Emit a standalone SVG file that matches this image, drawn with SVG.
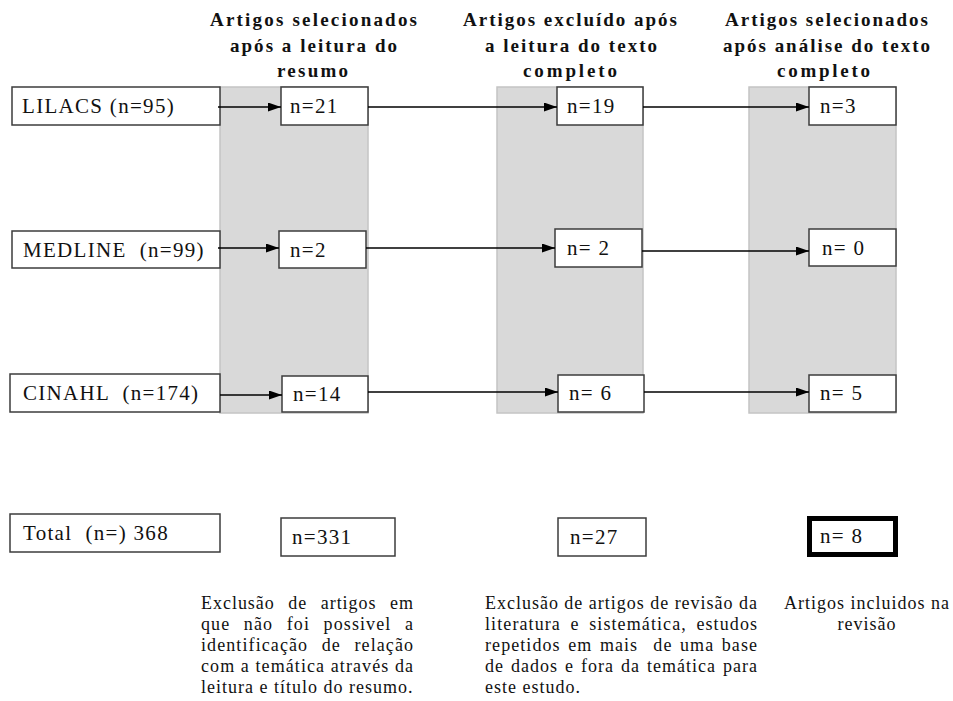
<svg xmlns="http://www.w3.org/2000/svg" width="953" height="701" viewBox="0 0 953 701">
<style>
.col{fill:#d9d9d9;stroke:#c4c4c4;stroke-width:1.5}
.box{fill:#fff;stroke:#3c3c3c;stroke-width:1.5}
.thick{fill:#fff;stroke:#000;stroke-width:5}
.bt{font-size:21px;letter-spacing:1.3px;fill:#111}
.hd{font-size:19px;font-weight:bold;fill:#111}
.nt{font-size:18px;letter-spacing:1px;fill:#111}
.conn line{stroke:#000;stroke-width:1.6;marker-end:url(#ah)}
</style>
<defs>
<marker id="ah" markerUnits="userSpaceOnUse" markerWidth="13" markerHeight="10" refX="13" refY="4.5" orient="auto">
<path d="M0,0 L13,4.5 L0,9 z" fill="#000"/>
</marker>
</defs>
<rect width="953" height="701" fill="#fff"/>
<g id="columns">
<rect class="col" x="220" y="87" width="148" height="326"/>
<rect class="col" x="497" y="87" width="146" height="326"/>
<rect class="col" x="749" y="87" width="147" height="326"/>
</g>
<g font-family="'Liberation Serif', 'DejaVu Serif', serif">
<g id="headers">
<text class="hd" x="210" y="26" textLength="207" lengthAdjust="spacing">Artigos selecionados</text>
<text class="hd" x="230" y="51.5" textLength="167" lengthAdjust="spacing">após a leitura do</text>
<text class="hd" x="277" y="77" textLength="71" lengthAdjust="spacing">resumo</text>
<text class="hd" x="463" y="26" textLength="214" lengthAdjust="spacing">Artigos excluído após</text>
<text class="hd" x="485" y="51.5" textLength="172" lengthAdjust="spacing">a leitura do texto</text>
<text class="hd" x="523" y="77" textLength="94" lengthAdjust="spacing">completo</text>
<text class="hd" x="725" y="26" textLength="203" lengthAdjust="spacing">Artigos selecionados</text>
<text class="hd" x="723" y="51.5" textLength="207" lengthAdjust="spacing">após análise do texto</text>
<text class="hd" x="777" y="77" textLength="93" lengthAdjust="spacing">completo</text>
</g>
<g id="lilacs"><rect class="box" x="12" y="87" width="208" height="38"/><text class="bt" x="22" y="113">LILACS (n=95)</text></g>
<g id="medline"><rect class="box" x="12" y="231" width="208" height="37"/><text class="bt" x="23" y="257" xml:space="preserve">MEDLINE  (n=99)</text></g>
<g id="cinahl"><rect class="box" x="10" y="374" width="210" height="38"/><text class="bt" x="23" y="400" xml:space="preserve">CINAHL  (n=174)</text></g>
<g id="total"><rect class="box" x="10" y="514" width="210" height="38"/><text class="bt" x="23" y="540" xml:space="preserve">Total  (n=) 368</text></g>
<g id="s1r1"><rect class="box" x="281" y="87" width="87" height="38"/><text class="bt" x="290" y="113">n=21</text></g>
<g id="s1r2"><rect class="box" x="279" y="231" width="87" height="37"/><text class="bt" x="290" y="257">n=2</text></g>
<g id="s1r3"><rect class="box" x="282" y="376" width="86" height="36"/><text class="bt" x="293" y="401">n=14</text></g>
<g id="s1t"><rect class="box" x="281" y="518" width="114" height="38"/><text class="bt" x="292" y="544">n=331</text></g>
<g id="s2r1"><rect class="box" x="557" y="87" width="86" height="38"/><text class="bt" x="567" y="113">n=19</text></g>
<g id="s2r2"><rect class="box" x="555" y="229" width="87" height="38"/><text class="bt" x="567" y="255">n= 2</text></g>
<g id="s2r3"><rect class="box" x="558" y="375" width="86" height="37"/><text class="bt" x="569" y="400">n= 6</text></g>
<g id="s2t"><rect class="box" x="558" y="518" width="88" height="38"/><text class="bt" x="570" y="544">n=27</text></g>
<g id="s3r1"><rect class="box" x="809" y="87" width="87" height="38"/><text class="bt" x="820" y="113">n=3</text></g>
<g id="s3r2"><rect class="box" x="809" y="229" width="87" height="37"/><text class="bt" x="822" y="255">n= 0</text></g>
<g id="s3r3"><rect class="box" x="809" y="375" width="87" height="37"/><text class="bt" x="820" y="400">n= 5</text></g>
<g id="s3t"><rect class="thick" x="809.5" y="518.5" width="86" height="36"/><text class="bt" x="820" y="543">n= 8</text></g>
<g id="note1">
<text class="nt" x="201" y="609" word-spacing="8" textLength="213" lengthAdjust="spacing">Exclusão de artigos em</text>
<text class="nt" x="201" y="630" word-spacing="8" textLength="213" lengthAdjust="spacing">que não foi possivel a</text>
<text class="nt" x="201" y="651" word-spacing="8" textLength="213" lengthAdjust="spacing">identificação de relação</text>
<text class="nt" x="201" y="672" textLength="213" lengthAdjust="spacing">com a temática através da</text>
<text class="nt" x="201" y="693">leitura e título do resumo.</text>
</g>
<g id="note2">
<text class="nt" x="485" y="609" textLength="273" lengthAdjust="spacing">Exclusão de artigos de revisão da</text>
<text class="nt" x="485" y="630" word-spacing="4" textLength="273" lengthAdjust="spacing">literatura e sistemática, estudos</text>
<text class="nt" x="485" y="651" word-spacing="2" textLength="273" lengthAdjust="spacing" xml:space="preserve">repetidos em mais  de uma base</text>
<text class="nt" x="485" y="672" word-spacing="1.5" textLength="273" lengthAdjust="spacing">de dados e fora da temática para</text>
<text class="nt" x="485" y="693">este estudo.</text>
</g>
<g id="note3">
<text class="nt" x="867" y="609" text-anchor="middle">Artigos incluidos na</text>
<text class="nt" x="867" y="630" text-anchor="middle">revisão</text>
</g>
</g>
<g class="conn" id="connectors">
<line x1="218" y1="107" x2="281" y2="107"/>
<line x1="368" y1="107" x2="557" y2="107"/>
<line x1="643" y1="107" x2="809" y2="107"/>
<line x1="218" y1="248" x2="279" y2="248"/>
<line x1="366" y1="248" x2="555" y2="248"/>
<line x1="642" y1="251" x2="809" y2="251"/>
<line x1="220" y1="395" x2="282" y2="395"/>
<line x1="368" y1="392" x2="558" y2="392"/>
<line x1="644" y1="392" x2="809" y2="392"/>
</g>
</svg>
